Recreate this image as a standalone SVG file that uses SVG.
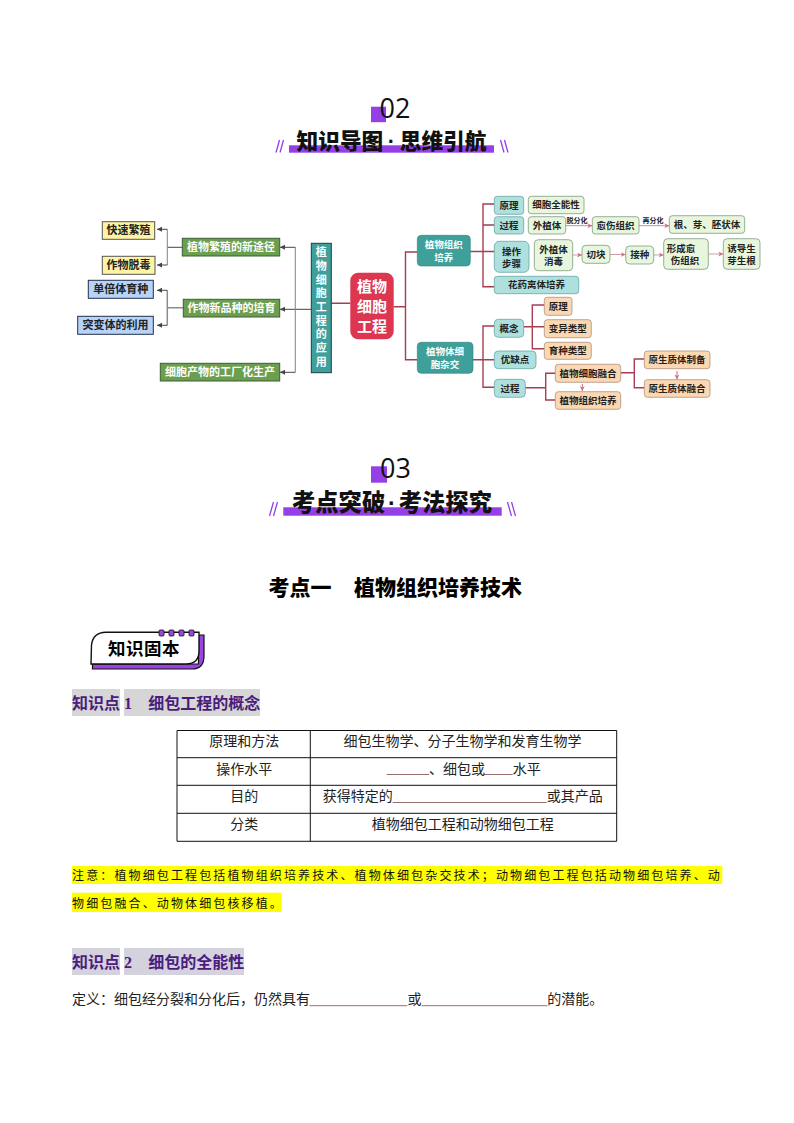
<svg xmlns="http://www.w3.org/2000/svg" width="794" height="1123" viewBox="0 0 794 1123">
<style>
text{font-family:"Noto Sans CJK SC","Noto Sans",sans-serif;fill:#000}
.m{text-anchor:middle}
.b{font-weight:700}
.s{font-size:9.5px;font-weight:700;text-anchor:middle;fill:#222}
.l{font-size:11px;font-weight:700;text-anchor:middle;fill:#222}
.w{font-size:11px;font-weight:700;text-anchor:middle;fill:#fff}
.wt{font-size:9.5px;font-weight:700;text-anchor:middle;fill:#fff}
.lab{font-size:7px;font-weight:700;text-anchor:middle;fill:#222}
.num{font-family:"Open Sans","Noto Sans",sans-serif;font-size:27px;font-weight:400;fill:#111}
.tt{font-size:21.7px;font-weight:900;fill:#111}
.dot{font-family:"Liberation Sans",sans-serif;font-weight:700}
.h{font-size:16px;font-weight:700;fill:#4b1c7c}
.hn{font-family:"Liberation Serif",serif;font-size:16px;font-weight:700;fill:#4b1c7c}
.t{font-size:14px;fill:#222}
.n{font-size:12px;letter-spacing:2.13px;fill:#111}
.teal{fill:#3f9f9a;stroke:#2f7f7b;stroke-width:.6}
.lt{fill:#aee0de;stroke:#5c9c9c;stroke-width:.7}
.lg{fill:#e8f6dd;stroke:#6d8f70;stroke-width:.7}
.or{fill:#fbd8b2;stroke:#a58472;stroke-width:.7}
.gr{fill:#6c9e4f;stroke:#3d5f35;stroke-width:1}
.ye{fill:#fff4a3;stroke:#555;stroke-width:1}
.bl{fill:#b8d3f8;stroke:#223049;stroke-width:1}
.r{fill:none;stroke:#a73e50;stroke-width:1.4}
.g{fill:none;stroke:#8c8c8c;stroke-width:1.1}
.d{fill:none;stroke:#444;stroke-width:1}
.pa{fill:none;stroke:#c9929c;stroke-width:.9}
.ul{stroke:#7d4a4a;stroke-width:.8}
.tb{stroke:#111;stroke-width:1;fill:none}
.sl{stroke:#9440e6;stroke-width:1.3}
</style>
<defs>
<marker id="ad" markerWidth="6" markerHeight="6" refX="5" refY="2.5" orient="auto" markerUnits="userSpaceOnUse"><path d="M0,0 L5,2.5 L0,5 Z" fill="#444"/></marker>
<marker id="ar" markerWidth="6" markerHeight="6" refX="5" refY="2.5" orient="auto" markerUnits="userSpaceOnUse"><path d="M0,0 L5,2.5 L0,5 L1.5,2.5 Z" fill="#c9707f"/></marker>
</defs>

<g id="section-02">
<rect x="371" y="106.7" width="15" height="15.5" fill="#9440e6"/>
<text class="num" x="379.5" y="118.3">02</text>
<rect x="289" y="145.3" width="205" height="7.4" fill="#9440e6"/>
<text class="tt" x="296.5" y="149">知识导图<tspan class="dot" dx="4.6">·</tspan><tspan dx="4.6">思维引航</tspan></text>
<path class="sl" d="M276,152.5 L279.5,140 M280,152.5 L283.5,140 M500.5,140 L504,152.5 M504.5,140 L508,152.5"/>
</g>

<g id="connectors">
<path class="d" d="M311.3,309.3 H280" marker-end="url(#ad)"/>
<path class="g" d="M295.3,247.3 V372.3"/>
<path class="d" d="M295.3,247.3 H280" marker-end="url(#ad)"/>
<path class="d" d="M295.3,372.3 H280" marker-end="url(#ad)"/>
<path class="d" d="M182.3,247.3 H167.3"/>
<path class="g" d="M167.3,229.3 V265"/>
<path class="d" d="M167.3,229.3 H157" marker-end="url(#ad)"/>
<path class="d" d="M167.3,265 H157" marker-end="url(#ad)"/>
<path class="g" style="stroke-width:1.5" d="M183.3,307.7 H167.3 M167.3,290.3 V325.3"/>
<path class="d" d="M167.3,290.3 H157" marker-end="url(#ad)"/>
<path class="d" d="M167.3,325.3 H157" marker-end="url(#ad)"/>
<path class="r" d="M331.3,303.3 H350.3 M393.7,306.7 H405.5 M417.3,252 H405.5 V359.7 H417.3"/>
<path class="r" d="M470.3,251.5 H494.3 M494.3,204 H483 V286.7 H494.3 M483,225 H494.3"/>
<path class="d" style="stroke:#c9929c" d="M565.7,225.7 H592.3" marker-end="url(#ar)"/>
<path class="d" style="stroke:#c9929c" d="M639,225.7 H669.3" marker-end="url(#ar)"/>
<path class="pa" d="M572.7,255 H582" marker-end="url(#ar)"/>
<path class="pa" d="M610,254.5 H625.7" marker-end="url(#ar)"/>
<path class="pa" d="M653.7,255 H663.7" marker-end="url(#ar)"/>
<path class="pa" d="M708.3,254 H723.3" marker-end="url(#ar)"/>
<path class="r" d="M473,359.7 H494.3 M494.3,326 H483 V387.3 H494.3"/>
<path class="r" d="M523.7,326.7 H544.3 M544.3,305 H532.3 V348.7 H544.3"/>
<path class="r" d="M525.3,387.7 H545.7 M555.3,373.3 H545.7 V400 H555.3"/>
<path class="r" d="M620.7,372.7 H634.3 M644.3,359 H634.3 V387.7 H644.3"/>
<path class="d" style="stroke:#c9707f" d="M582.3,384 V391" marker-end="url(#ar)"/>
<path class="d" style="stroke:#c9707f" d="M677,371 V379.5" marker-end="url(#ar)"/>
</g>

<g id="n-kuaisu"><rect class="ye" x="102.3" y="221.7" width="52.4" height="17.6"/><text class="l" x="128.5" y="234.4">快速繁殖</text></g>
<g id="n-tuodu"><rect class="ye" x="102.3" y="256.3" width="52.7" height="18"/><text class="l" x="128.5" y="269.2">作物脱毒</text></g>
<g id="n-danbei"><rect class="bl" x="88.3" y="280.3" width="65" height="18"/><text class="l" x="120.8" y="293.2">单倍体育种</text></g>
<g id="n-tubian"><rect class="bl" x="77.7" y="316.3" width="75.6" height="18"/><text class="l" x="115.5" y="329.2">突变体的利用</text></g>
<g id="n-fanzhi"><rect class="gr" x="182.3" y="238.3" width="97.4" height="17.7"/><text class="w" x="231" y="251">植物繁殖的新途径</text></g>
<g id="n-xinpin"><rect class="gr" x="183.3" y="299.3" width="96.4" height="17.7"/><text class="w" x="231.5" y="312">作物新品种的培育</text></g>
<g id="n-chanwu"><rect class="gr" x="160.3" y="363.3" width="119.4" height="17.7"/><text class="w" x="220" y="376">细胞产物的工厂化生产</text></g>
<g id="n-yingyong"><rect class="teal" style="stroke:#1f3f3f;stroke-width:1" x="311.3" y="243.3" width="20" height="129.4"/>
<text x="321.3" y="246.5" style="writing-mode:vertical-rl;font-size:11px;font-weight:700;fill:#fff;letter-spacing:2.7px">植物细胞工程的应用</text></g>
<g id="n-root"><rect x="350.3" y="272.7" width="43.4" height="66.6" rx="8" fill="#dc3650"/>
<text class="w" style="font-size:15px" x="372" y="292">植物</text><text class="w" style="font-size:15px" x="372" y="312">细胞</text><text class="w" style="font-size:15px" x="372" y="331.5">工程</text></g>

<g id="n-zuzhi"><rect class="teal" x="417.3" y="235.3" width="53" height="30.7" rx="4"/><text class="wt" x="443.8" y="248">植物组织</text><text class="wt" x="443.8" y="261">培养</text></g>
<g id="n-yuanli1"><rect class="lt" x="494.3" y="196.3" width="29.4" height="18" rx="3"/><text class="s" x="509" y="208.7">原理</text></g>
<g id="n-quanneng"><rect class="lg" x="528.3" y="196.3" width="55.7" height="17.4" rx="3"/><text class="s" x="556" y="208.4">细胞全能性</text></g>
<g id="n-guocheng1"><rect class="lt" x="494.3" y="216.7" width="29.4" height="17.3" rx="3"/><text class="s" x="509" y="228.8">过程</text></g>
<g id="n-waizhi"><rect class="lg" x="528.3" y="216.7" width="37.4" height="17.3" rx="3"/><text class="s" x="547" y="228.8">外植体</text></g>
<text class="lab" x="577" y="222.5">脱分化</text>
<g id="n-yushang"><rect class="lg" x="592.3" y="216.7" width="46.7" height="17.3" rx="3"/><text class="s" x="615.6" y="228.8">愈伤组织</text></g>
<text class="lab" x="653" y="222.5">再分化</text>
<g id="n-gen"><rect class="lg" x="669.3" y="215.7" width="75.4" height="17.6" rx="3"/><text class="s" x="707" y="227.9">根、芽、胚状体</text></g>
<g id="n-caozuo"><rect class="lt" x="494.3" y="241.3" width="34.7" height="31" rx="5"/><text class="s" x="511.6" y="254.5">操作</text><text class="s" x="511.6" y="267">步骤</text></g>
<g id="n-xiaodu"><rect class="lg" x="534.3" y="239.7" width="38.4" height="31" rx="4"/><text class="s" x="553.5" y="252.5">外植体</text><text class="s" x="553.5" y="265">消毒</text></g>
<g id="n-qiekuai"><rect class="lg" x="582" y="245.3" width="28" height="18" rx="4"/><text class="s" x="596" y="257.7">切块</text></g>
<g id="n-jiezhong"><rect class="lg" x="625.7" y="246" width="28" height="18" rx="4"/><text class="s" x="639.7" y="258.4">接种</text></g>
<g id="n-xingcheng"><rect class="lg" x="663.7" y="238.7" width="44.6" height="30.6" rx="4"/><text class="s" x="681" y="251.5">形成愈</text><text class="s" x="685" y="264">伤组织</text></g>
<g id="n-youdao"><rect class="lg" x="723.3" y="238.7" width="36.7" height="30.6" rx="4"/><text class="s" x="741.6" y="251.5">诱导生</text><text class="s" x="741.6" y="264">芽生根</text></g>
<g id="n-huayao"><rect class="lt" x="494.3" y="276.3" width="84.4" height="17.4" rx="3"/><text class="s" x="536.5" y="288.4">花药离体培养</text></g>

<g id="n-zajiao"><rect class="teal" x="417.3" y="342.3" width="55.7" height="31" rx="4"/><text class="wt" x="445" y="355">植物体细</text><text class="wt" x="445" y="368">胞杂交</text></g>
<g id="n-gainian"><rect class="lt" x="494.3" y="319.3" width="29.4" height="18" rx="4"/><text class="s" x="509" y="331.7">概念</text></g>
<g id="n-youque"><rect class="lt" x="494.3" y="351" width="41.7" height="17.7" rx="4"/><text class="s" x="515" y="363.3">优缺点</text></g>
<g id="n-guocheng2"><rect class="lt" x="494.3" y="379.3" width="31" height="18" rx="4"/><text class="s" x="510" y="391.7">过程</text></g>
<g id="n-yuanli2"><rect class="or" x="544.3" y="297.3" width="27.7" height="18" rx="3"/><text class="s" x="558.2" y="309.7">原理</text></g>
<g id="n-bianyi"><rect class="or" x="544.3" y="319.7" width="47" height="18" rx="3"/><text class="s" x="567.8" y="332.1">变异类型</text></g>
<g id="n-yuzhong"><rect class="or" x="544.3" y="342.3" width="47" height="17" rx="3"/><text class="s" x="567.8" y="354.3">育种类型</text></g>
<g id="n-ronghe"><rect class="or" x="555.3" y="364.3" width="65.4" height="18" rx="3"/><text class="s" x="588" y="376.7">植物细胞融合</text></g>
<g id="n-peiyang"><rect class="or" x="555.3" y="391.7" width="65.4" height="17.6" rx="3"/><text class="s" x="588" y="403.9">植物组织培养</text></g>
<g id="n-zhibei"><rect class="or" x="644.3" y="351" width="65.7" height="17.7" rx="3"/><text class="s" x="677" y="363.3">原生质体制备</text></g>
<g id="n-ronghe2"><rect class="or" x="644.3" y="379.7" width="65.7" height="17.6" rx="3"/><text class="s" x="677" y="391.9">原生质体融合</text></g>

<g id="section-03">
<rect x="371" y="466.3" width="16" height="16.4" fill="#9440e6"/>
<text class="num" x="380" y="478">03</text>
<rect x="283.3" y="507.3" width="218.4" height="8.4" fill="#9440e6"/>
<text class="tt" style="font-size:23.3px" x="292" y="511">考点突破<tspan class="dot" dx="2.9">·</tspan><tspan dx="2.9">考法探究</tspan></text>
<path class="sl" d="M269.5,516 L273.5,502 M273.5,516 L277.5,502 M507.5,502 L511.5,516 M511.5,502 L515.5,516"/>
<text class="b" style="font-size:21px;font-weight:900" x="268.5" y="595">考点一</text>
<text class="b" style="font-size:21px;font-weight:900" x="354" y="595">植物组织培养技术</text>
</g>

<g id="badge">
<path d="M92.5,664 V669 H192 Q204,669 204,656 V635 H198.5 V664 Z" fill="#9a45e0" stroke="#111" stroke-width="1.2"/>
<path d="M91,664 L91.5,645 Q93,632.5 106,632.3 H199 V651 Q199,664 186,664 Z" fill="#fff" stroke="#111" stroke-width="1.4"/>
<path d="M158,632.5 H198" stroke="#111" stroke-width="1.2"/>
<g fill="#9a45e0" stroke="#111" stroke-width=".8"><rect x="159" y="630" width="5" height="6" rx="1"/><rect x="169" y="630" width="5" height="6" rx="1"/><rect x="179" y="630" width="5" height="6" rx="1"/><rect x="189" y="630" width="5" height="6" rx="1"/></g>
<text class="b" style="font-size:17.5px;letter-spacing:.5px" x="108" y="655">知识固本</text>
</g>

<g id="h1">
<rect x="72" y="689" width="48" height="27" fill="#d6d6d6"/><rect x="124" y="689" width="136" height="27" fill="#d6d6d6"/>
<text class="h" x="72" y="709">知识点</text><text class="hn" x="124" y="708.5">1</text><text class="h" x="148.3" y="709">细包工程的概念</text>
</g>

<g id="table">
<path class="tb" d="M177,730.5 H616.7 V841.3 H177 Z M177,757.7 H616.7 M177,785.3 H616.7 M177,813.3 H616.7 M310.3,730.5 V841.3"/>
<text class="t m" x="244.3" y="745.5">原理和方法</text>
<text class="t m" x="462.5" y="745.5">细包生物学、分子生物学和发育生物学</text>
<text class="t m" x="244.3" y="773.5">操作水平</text>
<path class="ul" d="M386.7,774.5 H429 M484,774.5 H512.7 M392.7,802.5 H546.7"/>
<text class="t" x="429" y="773.5">、细包或</text>
<text class="t" x="512.7" y="773.5">水平</text>
<text class="t m" x="244.3" y="801">目的</text>
<text class="t" x="322.7" y="801">获得特定的</text>
<text class="t" x="546.7" y="801">或其产品</text>
<text class="t m" x="244.3" y="829">分类</text>
<text class="t m" x="462.8" y="829">植物细包工程和动物细包工程</text>
</g>

<g id="note">
<rect x="72" y="866" width="650.3" height="18" fill="#ffff00"/>
<rect x="72" y="892.7" width="209.7" height="19.3" fill="#ffff00"/>
<text class="n" x="72" y="880">注意&#xFF1A;植物细包工程包括植物组织培养技术、植物体细包杂交技术&#xFF1B;动物细包工程包括动物细包培养、动</text>
<text class="n" x="72" y="907.5">物细包融合、动物体细包核移植。</text>
</g>

<g id="h2">
<rect x="72" y="948" width="48" height="27" fill="#d4d2dc"/><rect x="124" y="948" width="120" height="27" fill="#d4d2dc"/>
<text class="h" x="72" y="968">知识点</text><text class="hn" x="124" y="967.5">2</text><text class="h" x="148.3" y="968">细包的全能性</text>
</g>

<g id="def">
<text class="t" x="72" y="1003.5">定义&#xFF1A;细包经分裂和分化后&#xFF0C;仍然具有</text>
<path class="ul" d="M309.5,1005.7 H407.3 M421.7,1005.7 H547.3"/>
<text class="t" x="407.5" y="1003.5">或</text>
<text class="t" x="547.3" y="1003.5">的潜能。</text>
</g>
</svg>
